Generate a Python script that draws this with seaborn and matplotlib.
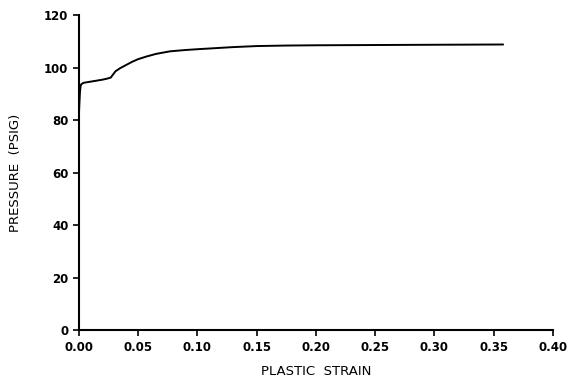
import matplotlib
matplotlib.use("Agg")
import matplotlib.pyplot as plt
import pandas as pd
import seaborn as sns

# values
strain = [0.0, 0.0005, 0.001, 0.0015, 0.002, 0.004, 0.008, 0.012, 0.016, 0.020, 0.024, 0.027,
          0.029, 0.031, 0.035, 0.040, 0.045, 0.050, 0.057, 0.065, 0.077, 0.090, 0.100, 0.115,
          0.130, 0.150, 0.175, 0.200, 0.250, 0.300, 0.358]
pressure = [80.0, 86.0, 90.5, 92.8, 93.6, 94.2, 94.5, 94.8, 95.1, 95.4, 95.8, 96.2,
            97.4, 98.6, 99.8, 101.0, 102.2, 103.2, 104.2, 105.2, 106.2, 106.7, 107.0, 107.4,
            107.8, 108.2, 108.4, 108.5, 108.6, 108.7, 108.8]

x_ticks = [0.00, 0.05, 0.10, 0.15, 0.20, 0.25, 0.30, 0.35, 0.40]
y_ticks = [0, 20, 40, 60, 80, 100, 120]

df = pd.DataFrame({"strain": strain, "pressure": pressure})

sns.set_style("ticks")
plt.rcParams["font.family"] = ["DejaVu Sans"]
plt.rcParams["text.color"] = "black"
plt.rcParams["axes.labelcolor"] = "black"
plt.rcParams["xtick.color"] = "black"
plt.rcParams["ytick.color"] = "black"

fig = plt.figure(figsize=(5.79, 3.87), dpi=100)
ax = fig.add_axes([0.136, 0.147, 0.819, 0.814])

sns.lineplot(data=df, x="strain", y="pressure", ax=ax, color="black", linewidth=1.4)

ax.set_xlim(0, 0.40)
ax.set_ylim(0, 120)
ax.set_xticks(x_ticks)
ax.set_xticklabels([f"{t:.2f}" for t in x_ticks])
ax.set_yticks(y_ticks)
ax.set_yticklabels([str(t) for t in y_ticks])
ax.tick_params(axis="both", labelsize=8.5, width=1.2, length=4, color="black", labelcolor="black")
for lbl in ax.get_xticklabels() + ax.get_yticklabels():
    lbl.set_fontweight("bold")

ax.set_xlabel("PLASTIC  STRAIN", fontsize=9.5, labelpad=8, color="black")
ax.set_ylabel("PRESSURE  (PSIG)", fontsize=9.5, labelpad=16, color="black")

sns.despine(ax=ax)
ax.spines["left"].set_linewidth(1.5)
ax.spines["bottom"].set_linewidth(1.5)
ax.spines["left"].set_color("black")
ax.spines["bottom"].set_color("black")

fig.savefig("out.png", dpi=100)
